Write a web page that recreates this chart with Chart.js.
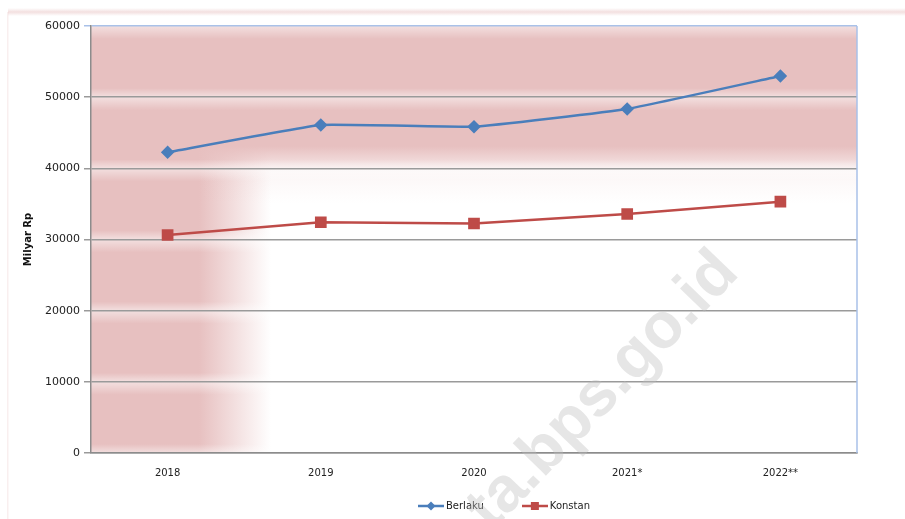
<!DOCTYPE html>
<html>
<head>
<meta charset="utf-8">
<script src="https://cdn.jsdelivr.net/npm/chart.js@4"></script>
<style>
  html, body { margin: 0; padding: 0; background: #fff; }
</style>
</head>
<body>
<canvas id="chart" width="905" height="519"></canvas>
<script>
const years = ["2018", "2019", "2020", "2021*", "2022**"];
const berlaku = [42250, 46090, 45850, 48340, 52970];
const konstan = [30630, 32420, 32250, 33580, 35310];
const yTicks = [0, 10000, 20000, 30000, 40000, 50000, 60000];

const BLUE = "#4a7ebb";
const RED = "#be4b48";
const PINK = "231,192,192";
const FONT = "'DejaVu Sans', Arial, sans-serif";

const clamp01 = v => Math.max(0, Math.min(1, v));

// legend swatch: line with marker in the middle
function legendSwatch(color, shape) {
    const c = document.createElement("canvas");
    c.width = 26;
    c.height = 12;
    const g = c.getContext("2d");
    g.strokeStyle = color;
    g.lineWidth = 2.5;
    g.beginPath();
    g.moveTo(0, 6);
    g.lineTo(26, 6);
    g.stroke();
    g.fillStyle = color;
    if (shape === "diamond") {
        g.beginPath();
        g.moveTo(13, 1.5); g.lineTo(17.5, 6); g.lineTo(13, 10.5); g.lineTo(8.5, 6);
        g.closePath();
        g.fill();
    } else {
        g.fillRect(9, 2, 8, 8);
    }
    return c;
}

const backdrop = {
    id: "backdrop",
    beforeDraw(chart) {
        const { ctx, chartArea: a } = chart;
        const ys = chart.scales.y;
        const y40 = ys.getPixelForValue(40000);
        ctx.save();
        ctx.fillStyle = "#fff";
        ctx.fillRect(0, 0, chart.width, chart.height);

        // faint frame line at the top of the picture
        let fg = ctx.createLinearGradient(0, 8, 0, 16);
        fg.addColorStop(0, `rgba(${PINK},0)`);
        fg.addColorStop(0.5, `rgba(${PINK},0.5)`);
        fg.addColorStop(1, `rgba(${PINK},0)`);
        ctx.fillStyle = fg;
        ctx.fillRect(8, 8, chart.width - 8, 8);
        ctx.fillStyle = `rgba(${PINK},0.25)`;
        ctx.fillRect(7, 12, 1.5, chart.height - 12);

        ctx.beginPath();
        ctx.rect(a.left, a.top, a.right - a.left, a.bottom - a.top);
        ctx.clip();

        // left band
        let lg = ctx.createLinearGradient(a.left, 0, a.left + 180, 0);
        lg.addColorStop(0, `rgba(${PINK},1)`);
        lg.addColorStop(0.6, `rgba(${PINK},1)`);
        lg.addColorStop(1, `rgba(${PINK},0)`);
        ctx.fillStyle = lg;
        ctx.fillRect(a.left, a.top, 180, a.bottom - a.top);

        // top band
        const th = y40 + 35 - a.top;
        if (th > 40) {
            let tg = ctx.createLinearGradient(0, a.top, 0, y40 + 35);
            tg.addColorStop(0, `rgba(${PINK},1)`);
            tg.addColorStop(clamp01((y40 - 22 - a.top) / th), `rgba(${PINK},1)`);
            tg.addColorStop(clamp01((y40 - a.top) / th), `rgba(${PINK},0.4)`);
            tg.addColorStop(clamp01((y40 + 2 - a.top) / th), `rgba(${PINK},0.15)`);
            tg.addColorStop(1, `rgba(${PINK},0)`);
            ctx.fillStyle = tg;
            ctx.fillRect(a.left, a.top, a.right - a.left, th);
        }

        // soft light glow around each grid line
        yTicks.forEach(v => {
            const y = ys.getPixelForValue(v);
            const hg = ctx.createLinearGradient(0, y - 9, 0, y + 13);
            hg.addColorStop(0, "rgba(255,255,255,0)");
            hg.addColorStop(9 / 22, "rgba(255,255,255,0.5)");
            hg.addColorStop(1, "rgba(255,255,255,0)");
            ctx.fillStyle = hg;
            ctx.fillRect(a.left, y - 9, a.right - a.left, 22);
        });
        ctx.restore();
    },
    afterDraw(chart) {
        const { ctx, chartArea: a } = chart;
        ctx.save();
        // right border of the plot area
        ctx.strokeStyle = "#a9c1e8";
        ctx.lineWidth = 1.5;
        ctx.beginPath();
        ctx.moveTo(a.right, a.top);
        ctx.lineTo(a.right, a.bottom);
        ctx.stroke();

        // legend, below the axis and right of centre as in the original
        ctx.font = `10px ${FONT}`;
        ctx.fillStyle = "#222";
        ctx.textAlign = "left";
        ctx.textBaseline = "middle";
        let x = 418;
        const y = 506;
        chart.data.datasets.forEach(ds => {
            ctx.drawImage(ds.swatch, x, y - 6);
            x += 28;
            ctx.fillText(ds.label, x, y);
            x += ctx.measureText(ds.label).width + 38;
        });

        // watermark
        ctx.translate(728, 262);
        ctx.rotate(-46 * Math.PI / 180);
        ctx.font = "bold 64px Arial, 'Liberation Sans', sans-serif";
        ctx.textAlign = "right";
        ctx.textBaseline = "middle";
        ctx.fillStyle = "rgba(190,190,190,0.38)";
        ctx.fillText("ta.bps.go.id", 0, 0);
        ctx.restore();
    }
};

new Chart(document.getElementById("chart"), {
    type: "line",
    data: {
        labels: years,
        datasets: [
            {
                label: "Berlaku",
                data: berlaku,
                borderColor: BLUE,
                backgroundColor: BLUE,
                borderWidth: 2.5,
                pointStyle: "rectRot",
                pointRadius: 5,
                tension: 0.1,
                swatch: legendSwatch(BLUE, "diamond")
            },
            {
                label: "Konstan",
                data: konstan,
                borderColor: RED,
                backgroundColor: RED,
                borderWidth: 2.5,
                pointStyle: "rect",
                pointRadius: 6.5,
                tension: 0,
                swatch: legendSwatch(RED, "square")
            }
        ]
    },
    options: {
        responsive: false,
        animation: false,
        devicePixelRatio: 1,
        layout: { padding: { top: 26, right: 48, left: 0, bottom: 36 } },
        plugins: {
            tooltip: { enabled: false },
            legend: { display: false }
        },
        scales: {
            x: {
                offset: true,
                grid: { display: false },
                border: { color: "#8c8c8c", width: 1.5 },
                ticks: { color: "#222", font: { family: FONT, size: 10 }, padding: 6, maxRotation: 0 },
                afterFit(s) { s.height = 30; }
            },
            y: {
                min: 0,
                max: 60000,
                afterBuildTicks(s) { s.ticks = yTicks.map(v => ({ value: v })); },
                border: { color: "#8c8c8c", width: 1.5 },
                grid: {
                    color: c => (c.tick && c.tick.value === 60000 ? "#a9c1e8" : "#9a9a9a"),
                    lineWidth: 1.5,
                    tickLength: 7
                },
                ticks: {
                    color: "#222",
                    font: { family: FONT, size: 11 },
                    padding: 4,
                    callback: v => String(v)
                },
                title: {
                    display: true,
                    text: "Milyar Rp",
                    color: "#111",
                    font: { family: FONT, size: 10, weight: "bold" },
                    padding: { top: 22, bottom: 0 }
                },
                afterFit(s) { s.width = 91; }
            }
        }
    },
    plugins: [backdrop]
});
</script>
</body>
</html>
